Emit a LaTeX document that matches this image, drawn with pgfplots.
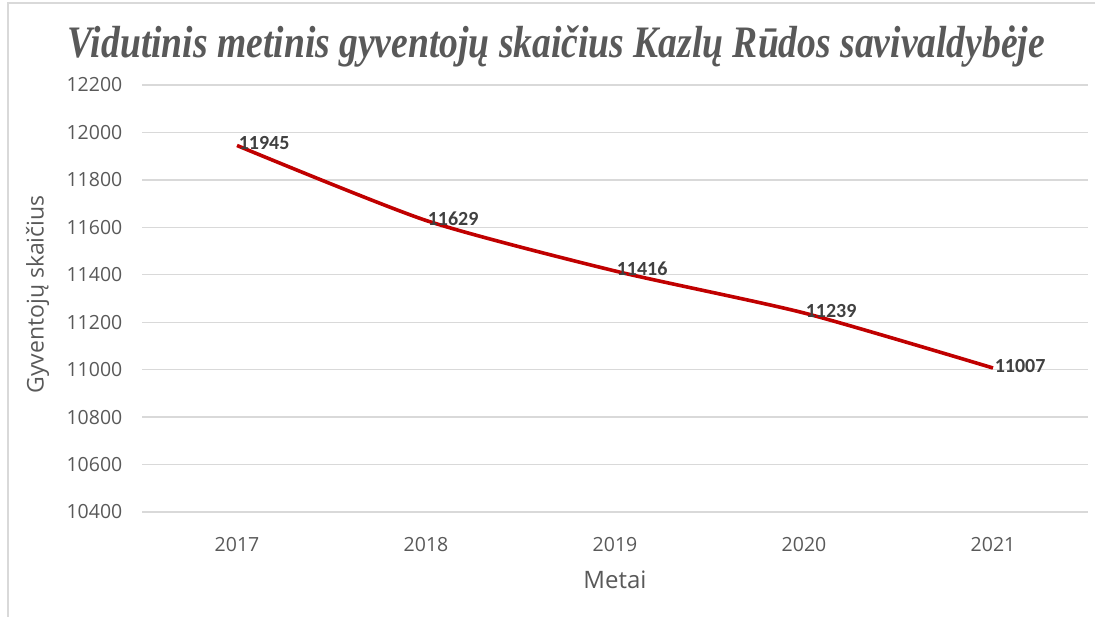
\documentclass[border=0pt]{standalone}
\usepackage{pgfplots}
\pgfplotsset{compat=1.18}
\usepackage{fontspec}
\usepackage{graphicx}
\setmainfont{Open Sans}
\newfontfamily\titlefont{Liberation Serif}
\newfontfamily\labelfont{Carlito}
\definecolor{txtgray}{HTML}{595959}
\definecolor{lblgray}{HTML}{404040}
\definecolor{gridgray}{HTML}{D9D9D9}
\definecolor{linered}{HTML}{C00000}
\begin{document}
\begin{tikzpicture}[x=1bp,y=1bp]
\path[use as bounding box] (-142.5bp,-105bp) rectangle (952.5bp,512bp);
\draw[gridgray, line width=1.2bp] (-134.5bp,-110bp) -- (-134.5bp,509bp) -- (960bp,509bp);
\begin{axis}[
  scale only axis,
  width=945bp, height=427bp,
  at={(0,0)}, anchor=south west,
  xmin=2016.5, xmax=2021.5,
  ymin=10400, ymax=12200,
  ytick={10400,10600,...,12200},
  xtick={2017,2018,2019,2020,2021},
  xticklabels={2017,2018,2019,2020,2021},
  axis line style={draw=none},
  major tick length=0pt,
  ymajorgrids,
  grid style={gridgray, line width=1.3bp},
  yticklabel style={font=\fontsize{19.5bp}{22bp}\selectfont, color=txtgray, inner sep=0pt, anchor=east, xshift=-20bp},
  xticklabel style={font=\fontsize{19.5bp}{22bp}\selectfont, color=txtgray, inner sep=0pt, anchor=north, yshift=-25bp},
  scaled y ticks=false,
  y tick label style={/pgf/number format/.cd, set thousands separator={}},
  x tick label style={/pgf/number format/.cd, set thousands separator={}},
  /pgf/number format/assume math mode=true,
  clip=false,
  nodes near coords,
  nodes near coords style={font=\labelfont\bfseries\fontsize{20bp}{22bp}\selectfont, color=lblgray, anchor=west, inner sep=0pt, yshift=2bp, /pgf/number format/.cd, set thousands separator={}, fixed},
]
\addplot[linered, line width=3.6bp, smooth, tension=0.4, mark=none] coordinates {
  (2017,11945) (2018,11629) (2019,11416) (2020,11239) (2021,11007)
};
\node[font=\fontsize{24bp}{26bp}\selectfont, color=txtgray, anchor=north, inner sep=0pt] at (rel axis cs:0.5,0) [yshift=-59bp] {Metai};
\node[xshift=-105bp, yshift=4bp, font=\fontsize{23bp}{26bp}\selectfont, color=txtgray, rotate=90, inner sep=0pt] at (rel axis cs:0,0.5) {Gyventojų skaičius};
\node[anchor=base, inner sep=0pt, color=txtgray] at (rel axis cs:0,0) [xshift=414bp, yshift=454bp] {\resizebox{977bp}{\height}{\titlefont\bfseries\itshape\fontsize{45bp}{50bp}\selectfont Vidutinis metinis gyventojų skaičius Kazlų Rūdos savivaldybėje}};
\end{axis}
\end{tikzpicture}
\end{document}
